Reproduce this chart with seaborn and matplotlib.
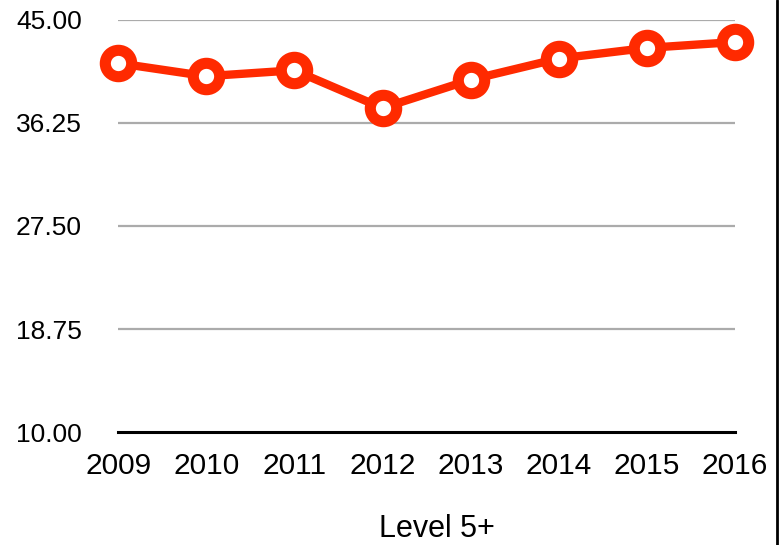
import matplotlib
matplotlib.use("Agg")
import matplotlib.pyplot as plt
import seaborn as sns
import pandas as pd
from matplotlib.lines import Line2D

years = [2009, 2010, 2011, 2012, 2013, 2014, 2015, 2016]
values = [41.3, 40.2, 40.7, 37.5, 39.9, 41.7, 42.6, 43.1]
y_ticks = [10.00, 18.75, 27.50, 36.25, 45.00]
x_label = "Level 5+"

sns.set_theme(style="white")
plt.rcParams['font.family'] = ['Liberation Sans', 'DejaVu Sans']

df = pd.DataFrame({"year": years, "value": values})

fig = plt.figure(figsize=(7.82, 5.45), dpi=100)
ax = fig.add_axes([0.151, 0.207, 0.789, 0.757])

for t in y_ticks[1:]:
    ax.axhline(t, color="#ababab", lw=1.6, zorder=1)

sns.lineplot(data=df, x="year", y="value", ax=ax, color="#ff2a00", lw=6,
             marker="o", markersize=19, markerfacecolor="white",
             markeredgecolor="#ff2a00", markeredgewidth=8, clip_on=False, zorder=3)

ax.set_xlim(years[0], years[-1])
ax.set_ylim(y_ticks[0], y_ticks[-1])
ax.set_yticks(y_ticks)
ax.set_yticklabels([f"{t:.2f}" for t in y_ticks])
ax.set_xticks(years)
ax.set_xticklabels([str(y) for y in years])
ax.tick_params(axis="both", length=0, colors="black")
ax.tick_params(axis="y", pad=26, labelsize=19)
ax.tick_params(axis="x", pad=14, labelsize=21.5)
ax.set_ylabel("")
ax.set_xlabel(x_label, fontsize=22, labelpad=25, color="black")
ax.xaxis.label.set_x(0.517)

for s in ["left", "right", "top"]:
    ax.spines[s].set_visible(False)
ax.spines["bottom"].set_color("black")
ax.spines["bottom"].set_linewidth(2.2)
ax.spines["bottom"].set_zorder(2)

fig.add_artist(Line2D([0.994, 0.994], [0, 1], transform=fig.transFigure,
                      color="black", lw=2))

fig.savefig("out.png", dpi=100)
